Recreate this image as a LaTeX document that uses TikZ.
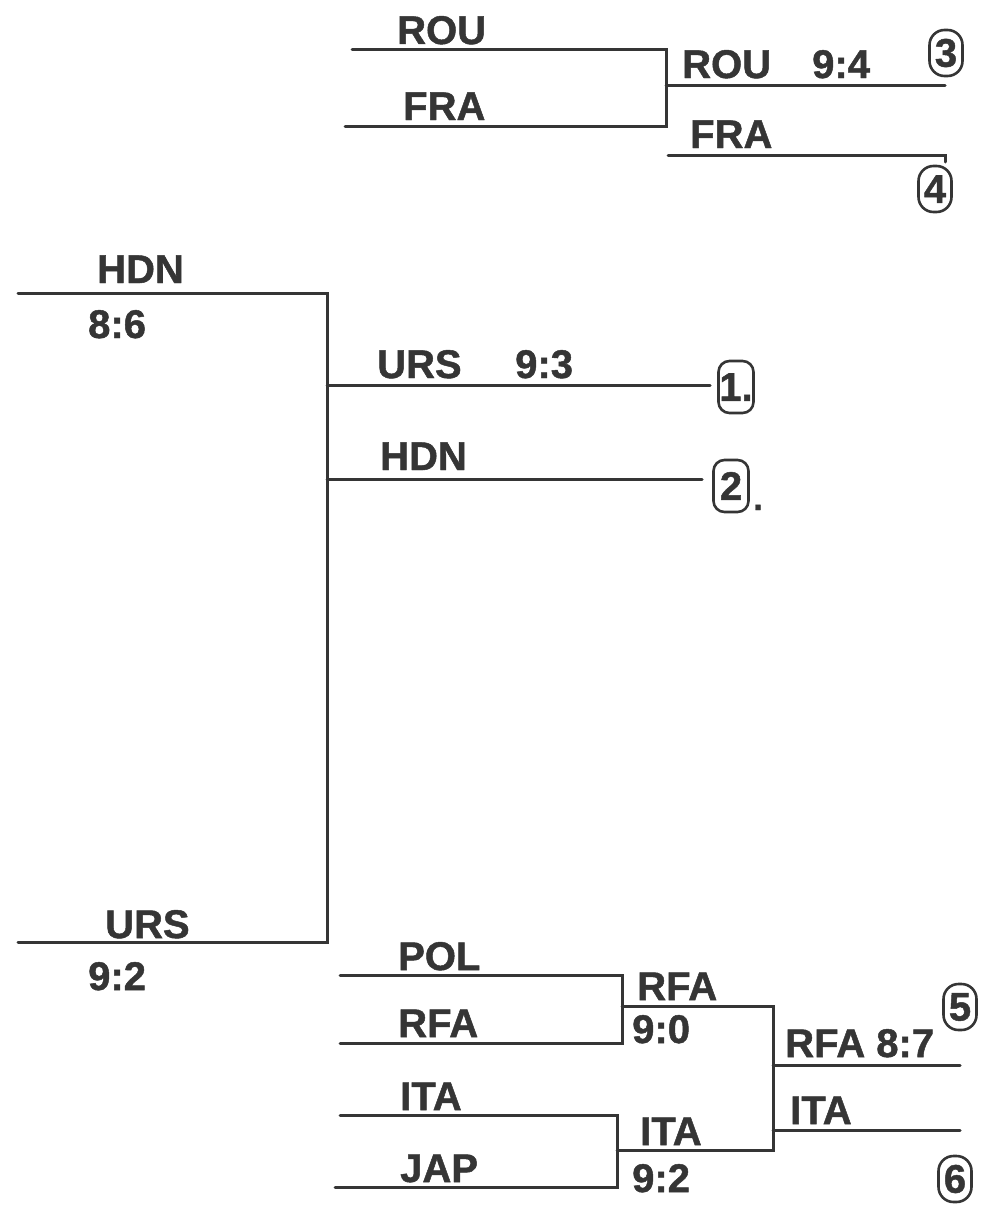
\documentclass[tikz,border=0pt]{standalone}
\usepackage{fontspec}
\setmainfont{Liberation Sans}[FakeBold=1.2]
\definecolor{ink}{HTML}{353535}
\tikzset{
  lbl/.style={anchor=base west, inner sep=0pt, font=\fontsize{40}{40}\selectfont\bfseries, text=ink},
  br/.style={draw=ink, line width=3pt, line cap=round, line join=miter},
  rank/.style={draw=ink, line width=2.6pt, rounded corners=15pt, minimum width=33pt, minimum height=46pt, inner sep=0pt, font=\fontsize{40}{40}\selectfont\bfseries, text=ink},
  rankbox/.style={rank, rounded corners=11pt, minimum width=35pt, minimum height=52pt}
}
\begin{document}
\begin{tikzpicture}[x=1pt,y=-1pt]
\path[use as bounding box] (0,0) rectangle (993,1207);

% ---------- top bracket (3rd / 4th place) ----------
\coordinate (a1) at (352,50);  \coordinate (a2) at (666,50);
\coordinate (b1) at (345,126); \coordinate (b2) at (666,126);
\coordinate (c1) at (666,85);  \coordinate (c2) at (945,85);
\coordinate (d1) at (668,155); \coordinate (d2) at (945,155); \coordinate (d3) at (945,162);
\draw[br] (a1) -- (a2) -- (b2) -- (b1);
\draw[br] (c1) -- (c2);
\draw[br] (d1) -- (d2) -- (d3);
\node[lbl] (tROU) at (397,44) {ROU};
\node[lbl] (tFRA) at (403,120) {FRA};
\node[lbl] (wROU) at (682,78) {ROU};
\node[lbl] (s94) at (812,78) {9:4};
\node[lbl] (wFRA) at (690,148) {FRA};
\node[rank] (r3) at (946,53) {3};
\node[rank] (r4) at (935,189) {4};

% ---------- final ----------
\coordinate (h1) at (18,293);  \coordinate (h2) at (327,293);
\coordinate (u1) at (18,942);  \coordinate (u2) at (327,942);
\coordinate (e1) at (327,385); \coordinate (e2) at (710,385);
\coordinate (f1) at (327,479); \coordinate (f2) at (702,479);
\draw[br] (h1) -- (h2) -- (u2) -- (u1);
\draw[br] (e1) -- (e2);
\draw[br] (f1) -- (f2);
\node[lbl] (lHDN) at (97,283) {HDN};
\node[lbl] (s86) at (88,338) {8:6};
\node[lbl] (lURS) at (105,938) {URS};
\node[lbl] (s92a) at (88,990) {9:2};
\node[lbl] (wURS) at (377,378) {URS};
\node[lbl] (s93) at (515,378) {9:3};
\node[lbl] (wHDN) at (380,470) {HDN};
\node[rankbox] (r1) at (736,387) {1.};
\node[rankbox] (r2) at (731,486) {2};
\node[inner sep=0pt, font=\fontsize{34}{34}\selectfont\bfseries, text=ink, anchor=base west] (r2dot) at (753,510) {.};

% ---------- bottom bracket (5th / 6th place) ----------
\coordinate (p1) at (340,975);  \coordinate (p2) at (622,975);
\coordinate (q1) at (340,1043); \coordinate (q2) at (622,1043);
\coordinate (i1) at (340,1115); \coordinate (i2) at (617,1115);
\coordinate (j1) at (335,1187); \coordinate (j2) at (617,1187);
\coordinate (m1) at (622,1006); \coordinate (m2) at (773,1006);
\coordinate (n1) at (617,1150); \coordinate (n2) at (773,1150);
\coordinate (s1) at (773,1065); \coordinate (s2) at (960,1065);
\coordinate (t1) at (773,1130); \coordinate (t2) at (960,1130);
\draw[br] (p1) -- (p2) -- (q2) -- (q1);
\draw[br] (i1) -- (i2) -- (j2) -- (j1);
\draw[br] (m1) -- (m2) -- (n2) -- (n1);
\draw[br] (s1) -- (s2);
\draw[br] (t1) -- (t2);
\node[lbl] (lPOL) at (398,970) {POL};
\node[lbl] (lRFA) at (398,1037) {RFA};
\node[lbl] (lITA) at (400,1110) {ITA};
\node[lbl] (lJAP) at (400,1182) {JAP};
\node[lbl] (mRFA) at (637,1000) {RFA};
\node[lbl] (s90) at (632,1043) {9:0};
\node[lbl] (mITA) at (640,1145) {ITA};
\node[lbl] (s92b) at (632,1192) {9:2};
\node[lbl] (fRFA) at (785,1057) {RFA 8:7};
\node[lbl] (fITA) at (790,1124) {ITA};
\node[rank] (r5) at (960,1007) {5};
\node[rank] (r6) at (955,1179) {6};
\end{tikzpicture}
\end{document}
